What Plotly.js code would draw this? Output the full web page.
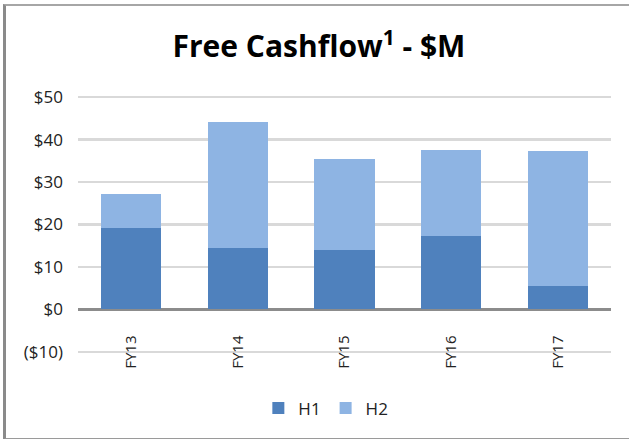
<!DOCTYPE html>
<html>
<head>
<meta charset="utf-8">
<script src="https://cdn.plot.ly/plotly-3.0.1.min.js"></script>
<style>
html,body{margin:0;padding:0;background:#fff;}
#wrap{position:relative;width:629px;height:439px;overflow:hidden;}
#chart{width:629px;height:439px;}
#frame{position:absolute;left:3px;top:4px;width:640px;height:432px;border-left:3px solid #8a8a8a;border-top:2px solid #a6a6a6;border-bottom:2px solid #9a9a9a;pointer-events:none;}
</style>
</head>
<body>
<div id="wrap"><div id="chart"></div><div id="frame"></div></div>
<script>
const categories = ["FY13", "FY14", "FY15", "FY16", "FY17"];
const h1 = [19.2, 14.4, 14.0, 17.4, 5.4];
const h2 = [8.1, 29.7, 21.5, 20.2, 31.8];
const yTickVals = [-10, 0, 10, 20, 30, 40, 50];
const yTickText = ["($10)", "$0", "$10", "$20", "$30", "$40", "$50"];

const font = "Open Sans, Liberation Sans, sans-serif";
const data = [
  {type: "bar", name: "H1", x: categories, y: h1, marker: {color: "#4f81bd"}},
  {type: "bar", name: "H2", x: categories, y: h2, marker: {color: "#8eb4e3"}}
];
const layout = {
  width: 629, height: 439,
  paper_bgcolor: "#fff", plot_bgcolor: "#fff",
  margin: {l: 78, r: 18, t: 95, b: 85},
  barmode: "stack",
  bargap: 0.435,
  showlegend: true,
  title: {text: "<b>Free Cashflow<sup>1</sup> - $M</b>", font: {family: font, size: 30, color: "#000"},
          x: 0.507, xanchor: "center", y: 0.893, yanchor: "middle", xref: "container", yref: "container"},
  font: {family: font, color: "#222"},
  xaxis: {type: "category", anchor: "free", position: 0.168, showline: false, showgrid: false, zeroline: false,
          tickangle: -90, ticks: "", ticklabelstandoff: 21, tickfont: {size: 15, color: "#222"}},
  yaxis: {range: [-10.5, 50.5], tickvals: yTickVals, ticktext: yTickText, showgrid: true,
          gridcolor: "#d9d9d9", gridwidth: 2.5, zeroline: true, zerolinecolor: "#8c8c8c", zerolinewidth: 3,
          showline: false, ticks: "", ticklabelstandoff: 14, tickfont: {size: 17, color: "#222"}},
  legend: {orientation: "h", x: 0.465, xanchor: "center", y: -0.21, yanchor: "middle",
           font: {size: 17, color: "#222"}, traceorder: "normal", itemwidth: 30}
};
Plotly.newPlot("chart", data, layout, {displayModeBar: false, staticPlot: true});
</script>
</body>
</html>
